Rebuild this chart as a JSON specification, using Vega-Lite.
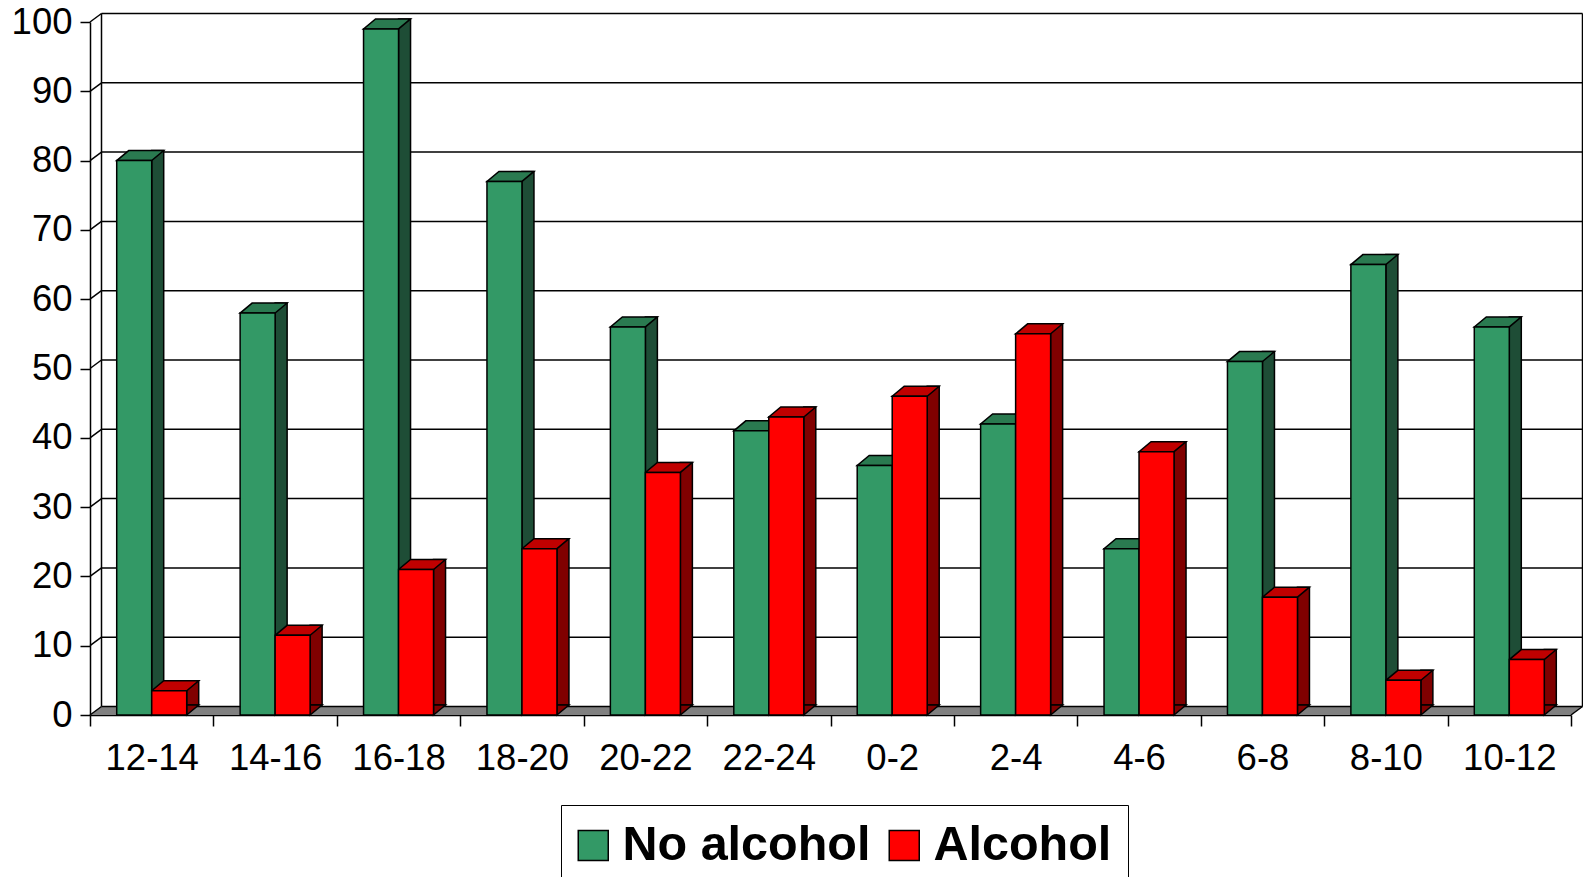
{
  "$schema": "https://vega.github.io/schema/vega-lite/v6.json",
  "width": 1481,
  "height": 693,
  "autosize": {"type": "none"},
  "padding": {"left": 90, "top": 22, "right": 12, "bottom": 162},
  "background": "white",
  "config": {
    "view": {"stroke": null},
    "font": "Liberation Sans",
    "axis": {"labelFontSize": 36.5, "labelColor": "black", "labelFont": "Liberation Sans", "tickColor": "black", "domainColor": "black", "tickWidth": 1.5, "domainWidth": 1.5, "grid": false}
  },
  "datasets": {
    "bars": [
      {"t": "12-14", "g": "No alcohol", "v": 80}, {"t": "12-14", "g": "Alcohol", "v": 3.5},
      {"t": "14-16", "g": "No alcohol", "v": 58}, {"t": "14-16", "g": "Alcohol", "v": 11.5},
      {"t": "16-18", "g": "No alcohol", "v": 99}, {"t": "16-18", "g": "Alcohol", "v": 21},
      {"t": "18-20", "g": "No alcohol", "v": 77}, {"t": "18-20", "g": "Alcohol", "v": 24},
      {"t": "20-22", "g": "No alcohol", "v": 56}, {"t": "20-22", "g": "Alcohol", "v": 35},
      {"t": "22-24", "g": "No alcohol", "v": 41}, {"t": "22-24", "g": "Alcohol", "v": 43},
      {"t": "0-2", "g": "No alcohol", "v": 36}, {"t": "0-2", "g": "Alcohol", "v": 46},
      {"t": "2-4", "g": "No alcohol", "v": 42}, {"t": "2-4", "g": "Alcohol", "v": 55},
      {"t": "4-6", "g": "No alcohol", "v": 24}, {"t": "4-6", "g": "Alcohol", "v": 38},
      {"t": "6-8", "g": "No alcohol", "v": 51}, {"t": "6-8", "g": "Alcohol", "v": 17},
      {"t": "8-10", "g": "No alcohol", "v": 65}, {"t": "8-10", "g": "Alcohol", "v": 5},
      {"t": "10-12", "g": "No alcohol", "v": 56}, {"t": "10-12", "g": "Alcohol", "v": 8}
    ],
    "grid": [{"v": 0}, {"v": 10}, {"v": 20}, {"v": 30}, {"v": 40}, {"v": 50}, {"v": 60}, {"v": 70}, {"v": 80}, {"v": 90}, {"v": 100}],
    "one": [{}]
  },
  "layer": [
    {
      "data": {"name": "bars"},
      "transform": [{"filter": "datum.g === 'No alcohol'"}],
      "mark": {"type": "bar", "width": 35, "xOffset": -17.5, "opacity": 0},
      "encoding": {
        "x": {"field": "t", "type": "nominal", "title": null, "sort": ["12-14","14-16","16-18","18-20","20-22","22-24","0-2","2-4","4-6","6-8","8-10","10-12"], "scale": {"paddingInner": 0, "paddingOuter": 0},
          "axis": {"orient": "bottom", "tickBand": "extent", "tickSize": 11, "labelPadding": 14, "labelAngle": 0}},
        "y": {"field": "v", "type": "quantitative", "title": null, "scale": {"domain": [0, 100], "nice": false},
          "axis": {"orient": "left", "values": [0,10,20,30,40,50,60,70,80,90,100], "tickSize": 10, "labelPadding": 8}},
        "y2": {"datum": 0}
      }
    },
    {
      "data": {"name": "one"},
      "mark": {"type": "point", "shape": "M0,0 L1481,0 L1492.5,-8.5 L11.5,-8.5 Z", "size": 4, "filled": true, "fill": "#808080", "strokeWidth": 0, "opacity": 1},
      "encoding": {"x": {"value": 0}, "y": {"datum": 0, "type": "quantitative", "title": null}}
    },
    {
      "data": {"name": "grid"},
      "mark": {"type": "rule", "color": "black", "strokeWidth": 1.5, "xOffset": 11.5, "x2Offset": 11.5, "yOffset": -8.5},
      "encoding": {"x": {"value": 0}, "x2": {"value": "width"}, "y": {"field": "v", "type": "quantitative", "title": null}}
    },
    {
      "data": {"name": "grid"},
      "mark": {"type": "rule", "color": "black", "strokeWidth": 1.5, "x2Offset": 11.5, "y2Offset": -8.5},
      "encoding": {"x": {"value": 0}, "x2": {"value": 0}, "y": {"field": "v", "type": "quantitative", "title": null}, "y2": {"field": "v"}}
    },
    {
      "data": {"name": "one"},
      "mark": {"type": "rule", "color": "black", "strokeWidth": 1.5, "xOffset": 11.5, "yOffset": -8.5, "y2Offset": -8.5},
      "encoding": {"x": {"value": 0}, "y": {"datum": 100, "type": "quantitative", "title": null}, "y2": {"datum": 0}}
    },
    {
      "data": {"name": "one"},
      "mark": {"type": "rule", "color": "black", "strokeWidth": 1.5, "xOffset": 11.5, "yOffset": -8.5, "y2Offset": -8.5},
      "encoding": {"x": {"value": "width"}, "y": {"datum": 100, "type": "quantitative", "title": null}, "y2": {"datum": 0}}
    },
    {
      "data": {"name": "one"},
      "mark": {"type": "rule", "color": "black", "strokeWidth": 1.5, "x2Offset": 11.5, "y2Offset": -8.5},
      "encoding": {"x": {"value": "width"}, "x2": {"value": "width"}, "y": {"datum": 0, "type": "quantitative", "title": null}, "y2": {"datum": 0}}
    },
    {
      "data": {"name": "bars"},
      "transform": [{"filter": "datum.g === 'No alcohol'"}],
      "mark": {"type": "bar", "width": 12, "xOffset": 6, "yOffset": -10, "y2Offset": -10, "fill": "#1E4D36", "stroke": "black", "strokeWidth": 1.5},
      "encoding": {
        "x": {"field": "t", "type": "nominal", "title": null, "sort": ["12-14","14-16","16-18","18-20","20-22","22-24","0-2","2-4","4-6","6-8","8-10","10-12"]},
        "y": {"field": "v", "type": "quantitative", "title": null},
        "y2": {"datum": 0}
      }
    },
    {
      "data": {"name": "bars"},
      "transform": [{"filter": "datum.g === 'Alcohol'"}],
      "mark": {"type": "bar", "width": 12, "xOffset": 41, "yOffset": -10, "y2Offset": -10, "fill": "#800000", "stroke": "black", "strokeWidth": 1.5},
      "encoding": {
        "x": {"field": "t", "type": "nominal", "title": null, "sort": ["12-14","14-16","16-18","18-20","20-22","22-24","0-2","2-4","4-6","6-8","8-10","10-12"]},
        "y": {"field": "v", "type": "quantitative", "title": null},
        "y2": {"datum": 0}
      }
    },
    {
      "data": {"name": "bars"},
      "transform": [{"filter": "datum.g === 'No alcohol'"}],
      "mark": {"type": "point", "shape": "M0,0 L12,-10 L0,-10 Z", "size": 4, "filled": true, "fill": "#1E4D36", "stroke": "black", "strokeWidth": 1.5, "opacity": 1, "xOffset": 0},
      "encoding": {
        "x": {"field": "t", "type": "nominal", "title": null, "sort": ["12-14","14-16","16-18","18-20","20-22","22-24","0-2","2-4","4-6","6-8","8-10","10-12"]},
        "y": {"datum": 0, "type": "quantitative", "title": null}
      }
    },
    {
      "data": {"name": "bars"},
      "transform": [{"filter": "datum.g === 'Alcohol'"}],
      "mark": {"type": "point", "shape": "M0,0 L12,-10 L0,-10 Z", "size": 4, "filled": true, "fill": "#800000", "stroke": "black", "strokeWidth": 1.5, "opacity": 1, "xOffset": 35},
      "encoding": {
        "x": {"field": "t", "type": "nominal", "title": null, "sort": ["12-14","14-16","16-18","18-20","20-22","22-24","0-2","2-4","4-6","6-8","8-10","10-12"]},
        "y": {"datum": 0, "type": "quantitative", "title": null}
      }
    },
    {
      "data": {"name": "bars"},
      "transform": [{"filter": "datum.g === 'No alcohol'"}],
      "mark": {"type": "point", "shape": "M-35,0 L0,0 L12,-10 L-23,-10 Z", "size": 4, "filled": true, "fill": "#2A7A50", "stroke": "black", "strokeWidth": 1.5, "opacity": 1, "xOffset": 0},
      "encoding": {
        "x": {"field": "t", "type": "nominal", "title": null, "sort": ["12-14","14-16","16-18","18-20","20-22","22-24","0-2","2-4","4-6","6-8","8-10","10-12"]},
        "y": {"field": "v", "type": "quantitative", "title": null}
      }
    },
    {
      "data": {"name": "bars"},
      "transform": [{"filter": "datum.g === 'Alcohol'"}],
      "mark": {"type": "point", "shape": "M-35,0 L0,0 L12,-10 L-23,-10 Z", "size": 4, "filled": true, "fill": "#C00000", "stroke": "black", "strokeWidth": 1.5, "opacity": 1, "xOffset": 35},
      "encoding": {
        "x": {"field": "t", "type": "nominal", "title": null, "sort": ["12-14","14-16","16-18","18-20","20-22","22-24","0-2","2-4","4-6","6-8","8-10","10-12"]},
        "y": {"field": "v", "type": "quantitative", "title": null}
      }
    },
    {
      "data": {"name": "bars"},
      "transform": [{"filter": "datum.g === 'No alcohol'"}],
      "mark": {"type": "bar", "width": 35, "xOffset": -17.5, "stroke": "black", "strokeWidth": 1.5},
      "encoding": {
        "x": {"field": "t", "type": "nominal", "title": null, "sort": ["12-14","14-16","16-18","18-20","20-22","22-24","0-2","2-4","4-6","6-8","8-10","10-12"]},
        "y": {"field": "v", "type": "quantitative", "title": null},
        "y2": {"datum": 0},
        "color": {"field": "g", "type": "nominal", "scale": {"domain": ["No alcohol", "Alcohol"], "range": ["#339966", "#FF0000"]},
          "legend": {"title": null, "orient": "none", "legendX": 471, "legendY": 783, "direction": "horizontal", "symbolType": "square", "symbolSize": 900, "symbolOffset": -8, "symbolStrokeColor": "black", "symbolStrokeWidth": 1.5, "symbolOpacity": 1, "labelFontSize": 48.5, "labelFontWeight": "bold", "labelFont": "Liberation Sans", "labelColor": "black", "labelLimit": 600, "labelOffset": 5, "columnPadding": 15, "padding": 16, "strokeColor": "black", "fillColor": "white"}}
      }
    },
    {
      "data": {"name": "bars"},
      "transform": [{"filter": "datum.g === 'Alcohol'"}],
      "mark": {"type": "bar", "width": 35, "xOffset": 17.5, "stroke": "black", "strokeWidth": 1.5},
      "encoding": {
        "x": {"field": "t", "type": "nominal", "title": null, "sort": ["12-14","14-16","16-18","18-20","20-22","22-24","0-2","2-4","4-6","6-8","8-10","10-12"]},
        "y": {"field": "v", "type": "quantitative", "title": null},
        "y2": {"datum": 0},
        "color": {"field": "g", "type": "nominal", "legend": null}
      }
    }
  ]
}
